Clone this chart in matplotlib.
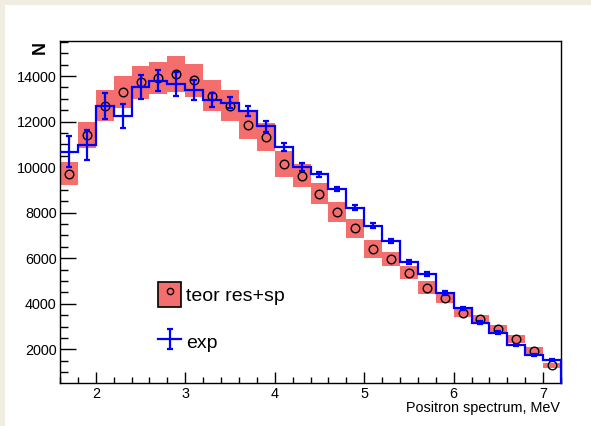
import numpy as np
import matplotlib
matplotlib.use('Agg')
import matplotlib.pyplot as plt
from matplotlib.patches import Rectangle, Patch
from matplotlib.lines import Line2D
from matplotlib.legend_handler import HandlerTuple
from matplotlib.ticker import MultipleLocator, FixedLocator

plt.rcParams['font.family'] = ['Liberation Sans', 'DejaVu Sans']

# ---- data ----
bin_edges = [1.6, 1.8, 2.0, 2.2, 2.4, 2.6, 2.8, 3.0, 3.2, 3.4, 3.6, 3.8, 4.0, 4.2,
             4.4, 4.6, 4.8, 5.0, 5.2, 5.4, 5.6, 5.8, 6.0, 6.2, 6.4, 6.6, 6.8, 7.0, 7.2]
bin_centers = [1.7, 1.9, 2.1, 2.3, 2.5, 2.7, 2.9, 3.1, 3.3, 3.5, 3.7, 3.9, 4.1, 4.3,
               4.5, 4.7, 4.9, 5.1, 5.3, 5.5, 5.7, 5.9, 6.1, 6.3, 6.5, 6.7, 6.9, 7.1]
exp_counts = [10664, 10971, 12669, 12258, 13530, 13794, 13635, 13385, 12946, 12828,
              12463, 11792, 10896, 10018, 9684, 9040, 8219, 7428, 6770, 5822,
              5308, 4474, 3802, 3170, 2731, 2191, 1739, 1520]
exp_err = [680, 640, 570, 530, 530, 470, 520, 420, 300, 250,
           230, 230, 175, 175, 100, 100, 115, 110, 90, 90,
           80, 80, 75, 70, 65, 60, 55, 50]
teor = [9698, 11423, 12696, 13311, 13723, 13912, 14088, 13811, 13135, 12696,
        11835, 11322, 10137, 9623, 8833, 8043, 7310, 6405, 5953, 5365,
        4693, 4254, 3610, 3317, 2880, 2441, 1941, 1300]
teor_err = [505, 570, 670, 700, 720, 715, 780, 730, 670, 680,
            600, 600, 550, 510, 470, 440, 430, 390, 315, 300,
            285, 230, 190, 180, 180, 180, 160, 120]
x_ticks = [2, 3, 4, 5, 6, 7]
y_ticks = [2000, 4000, 6000, 8000, 10000, 12000, 14000]
y_range = (520, 15537)
labels = ['teor res+sp', 'exp']

RED = '#f46e6e'
BLUE = '#0000ff'

W, H = 591, 426
fig = plt.figure(figsize=(W / 100, H / 100), dpi=100, facecolor='#f2ede3')
fig.patches.append(Rectangle((5 / W, 0), 1, (H - 5) / H, transform=fig.transFigure,
                             facecolor='white', edgecolor='none', zorder=-10))

ax = fig.add_axes([60 / W, (H - 383) / H, (561 - 60) / W, (383 - 41) / H])
ax.set_facecolor('white')

tc = np.array(teor)
te = np.array(teor_err)
ax.bar(bin_centers, 2 * te, bottom=tc - te, width=0.2, color=RED, edgecolor='none',
       zorder=2)
ax.plot(bin_centers, teor, 'o', mfc='none', mec='black', ms=6.2, mew=1.0, zorder=3)

ax.stairs(exp_counts, bin_edges, baseline=None, color=BLUE, lw=1.6, zorder=4)
ax.plot([bin_edges[-1], bin_edges[-1]], [y_range[0], exp_counts[-1]], color=BLUE,
        lw=1.6, zorder=4, clip_on=False)
eb = ax.errorbar(bin_centers, exp_counts, yerr=exp_err, fmt='none', ecolor=BLUE,
                 elinewidth=1.6, capsize=2.2, capthick=1.6, zorder=5)

ax.set_xlim(bin_edges[0], bin_edges[-1])
ax.set_ylim(*y_range)

ax.xaxis.set_major_locator(FixedLocator(x_ticks))
ax.xaxis.set_minor_locator(MultipleLocator(0.2))
ax.yaxis.set_major_locator(FixedLocator(y_ticks))
ax.yaxis.set_minor_locator(MultipleLocator(500))
ax.set_xticklabels([str(v) for v in x_ticks])
ax.set_yticklabels([str(v) for v in y_ticks])

ax.tick_params(axis='x', which='major', direction='in', length=8, width=1,
               labelsize=10.4, pad=3, top=False)
ax.tick_params(axis='x', which='minor', direction='in', length=4.3, width=1, top=False)
ax.tick_params(axis='y', which='major', direction='in', length=11.5, width=1,
               labelsize=10.4, pad=2.5, right=False)
ax.tick_params(axis='y', which='minor', direction='in', length=5.8, width=1, right=False)
for s in ax.spines.values():
    s.set_linewidth(1.0)
    s.set_color('black')

fig.text(1 - (W - 560) / W, (H - 408) / H, 'Positron spectrum, MeV', ha='right',
         va='center', fontsize=10.4)
fig.text(40 / W, (H - 41) / H, 'N', rotation=90, ha='center', va='top', fontsize=13,
         fontweight='bold')

red_h = Patch(facecolor=RED, edgecolor='black', lw=1.2)
circ_h = Line2D([], [], marker='o', ls='none', mfc='none', mec='black', ms=4.5, mew=1.0)
exp_line = Line2D([], [], color=BLUE, lw=1.6)
leg = ax.legend([(red_h, circ_h), (exp_line, eb)], labels,
                handler_map={tuple: HandlerTuple(ndivide=1, pad=0)},
                loc='upper left', bbox_to_anchor=((158 - 60) / 501, (383 - 282) / 342),
                frameon=False, fontsize=14, handlelength=1.2, handleheight=1.6,
                handletextpad=0.25, labelspacing=1.15, borderpad=0, borderaxespad=0)

fig.savefig('out.png', dpi=100, facecolor=fig.get_facecolor())
